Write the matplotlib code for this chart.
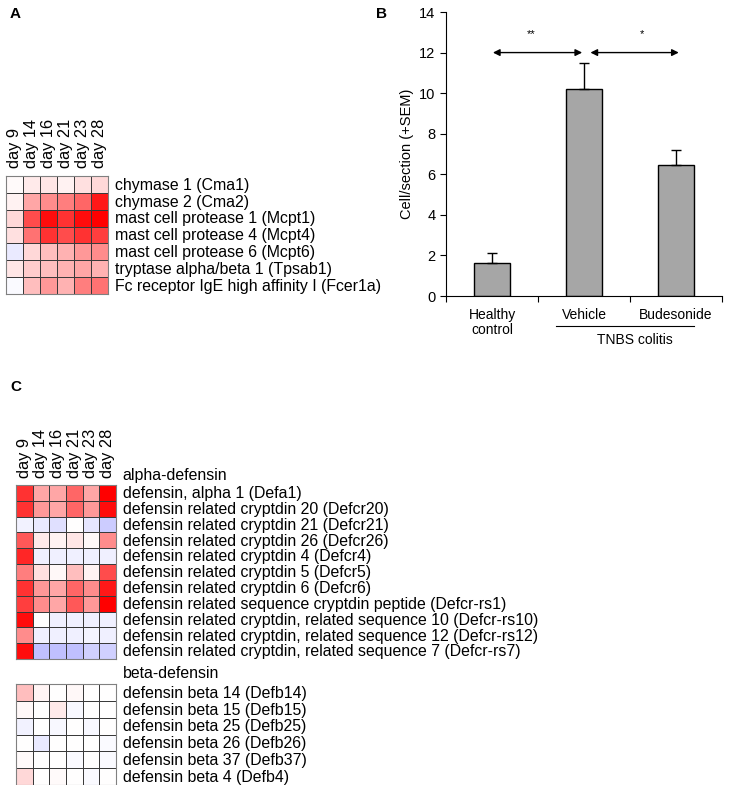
import matplotlib
matplotlib.use('Agg')
import matplotlib.pyplot as plt
import numpy as np
from matplotlib.colors import LinearSegmentedColormap

plt.rcParams['font.family'] = ['Liberation Sans', 'DejaVu Sans']

W, H = 729, 785

days = ['day 9', 'day 14', 'day 16', 'day 21', 'day 23', 'day 28']

# panel A - mast cell genes
mast_genes = ['chymase 1 (Cma1)', 'chymase 2 (Cma2)', 'mast cell protease 1 (Mcpt1)',
              'mast cell protease 4 (Mcpt4)', 'mast cell protease 6 (Mcpt6)',
              'tryptase alpha/beta 1 (Tpsab1)', 'Fc receptor IgE high affinity I (Fcer1a)']
mast_vals = [[0.02, 0.08, 0.10, 0.05, 0.12, 0.15],
             [0.05, 0.35, 0.45, 0.50, 0.60, 0.90],
             [0.15, 0.70, 0.95, 0.80, 0.95, 1.00],
             [0.12, 0.55, 0.80, 0.70, 0.80, 0.75],
             [-0.08, 0.15, 0.25, 0.30, 0.40, 0.45],
             [0.10, 0.20, 0.25, 0.30, 0.35, 0.30],
             [-0.02, 0.25, 0.40, 0.30, 0.50, 0.55]]

# panel B - bar chart
groups = ['Healthy\ncontrol', 'Vehicle', 'Budesonide']
cells = [1.63, 10.2, 6.45]
sem = [0.47, 1.3, 0.75]

# panel C - defensins
alpha_genes = ['defensin, alpha 1 (Defa1)', 'defensin related cryptdin 20 (Defcr20)',
               'defensin related cryptdin 21 (Defcr21)', 'defensin related cryptdin 26 (Defcr26)',
               'defensin related cryptdin 4 (Defcr4)', 'defensin related cryptdin 5 (Defcr5)',
               'defensin related cryptdin 6 (Defcr6)',
               'defensin related sequence cryptdin peptide (Defcr-rs1)',
               'defensin related cryptdin, related sequence 10 (Defcr-rs10)',
               'defensin related cryptdin, related sequence 12 (Defcr-rs12)',
               'defensin related cryptdin, related sequence 7 (Defcr-rs7)']
alpha_vals = [[0.80, 0.35, 0.35, 0.60, 0.35, 1.00],
              [0.80, 0.40, 0.35, 0.60, 0.40, 0.95],
              [-0.05, -0.08, -0.12, 0.00, -0.10, -0.20],
              [0.65, 0.08, 0.05, 0.10, 0.03, 0.45],
              [0.85, -0.06, -0.06, -0.06, -0.06, -0.06],
              [0.50, 0.12, 0.03, 0.25, 0.05, 0.70],
              [0.80, 0.40, 0.35, 0.60, 0.45, 0.90],
              [0.75, 0.45, 0.35, 0.65, 0.40, 1.00],
              [0.95, 0.00, -0.06, -0.06, -0.06, -0.06],
              [0.45, -0.06, -0.06, -0.06, -0.04, -0.06],
              [0.95, -0.25, -0.25, -0.25, -0.18, -0.18]]

beta_genes = ['defensin beta 14 (Defb14)', 'defensin beta 15 (Defb15)',
              'defensin beta 25 (Defb25)', 'defensin beta 26 (Defb26)',
              'defensin beta 37 (Defb37)', 'defensin beta 4 (Defb4)']
beta_vals = [[0.25, 0.04, 0.00, 0.03, 0.00, 0.00],
             [0.03, 0.00, 0.08, -0.03, 0.00, 0.00],
             [-0.05, 0.00, -0.03, 0.00, -0.03, 0.00],
             [0.00, -0.08, 0.00, 0.00, 0.00, -0.02],
             [0.02, 0.00, 0.00, -0.02, 0.00, -0.02],
             [0.15, 0.00, 0.02, 0.00, -0.02, 0.00]]

cmap = LinearSegmentedColormap.from_list('bwr2', ['#0000ff', '#ffffff', '#ff0000'])
FS = 11.4


def px_axes(x0, y0, x1, y1):
    # pixel box (top-left origin) -> figure axes
    return fig.add_axes([x0 / W, 1 - y1 / H, (x1 - x0) / W, (y1 - y0) / H])


def heatmap(ax, vals, labels, col_labels=None, header=None):
    vals = np.array(vals)
    ax.pcolormesh(vals, cmap=cmap, vmin=-1, vmax=1, edgecolors='#3a3a3a', linewidth=0.7)
    ax.set_xlim(0, vals.shape[1])
    ax.set_ylim(vals.shape[0], 0)
    ax.set_xticks([])
    ax.set_yticks([])
    for s in ax.spines.values():
        s.set_color('#808080')
        s.set_linewidth(0.8)
    for i, lab in enumerate(labels):
        ax.text(vals.shape[1] + 0.4, i + 0.55, lab, va='center', ha='left', fontsize=FS)
    if col_labels:
        for j, lab in enumerate(col_labels):
            ax.text(j + 0.5, -0.45, lab, rotation=90, ha='center', va='bottom', fontsize=11.8)
    if header:
        ax.text(vals.shape[1] + 0.4, -0.6, header, va='center', ha='left', fontsize=FS)


fig = plt.figure(figsize=(W / 100, H / 100), dpi=100)

# A
axA = px_axes(6, 176, 108, 294)
heatmap(axA, mast_vals, mast_genes, col_labels=days)
fig.text(10 / W, 1 - 14 / H, 'A', fontsize=11, fontweight='bold', va='center')

# C
axC1 = px_axes(16, 485, 116, 659)
heatmap(axC1, alpha_vals, alpha_genes, col_labels=days, header='alpha-defensin')
axC2 = px_axes(16, 684, 116, 785)
heatmap(axC2, beta_vals, beta_genes, header='beta-defensin')
fig.text(10 / W, 1 - 387 / H, 'C', fontsize=11, fontweight='bold', va='center')

# B
axB = px_axes(446, 12, 722, 296)
x = np.arange(len(groups)) + 0.5
axB.bar(x, cells, width=0.4, color='#a6a6a6', edgecolor='black', linewidth=1,
        yerr=[[0] * len(sem), sem], capsize=3.5, error_kw=dict(elinewidth=1, capthick=1))
axB.set_xlim(0, 3)
axB.set_ylim(0, 14)
axB.set_yticks(range(0, 15, 2))
axB.set_xticks([0, 1, 2, 3])
axB.set_xticklabels([])
axB.tick_params(direction='out', length=4, labelsize=10.5)
axB.spines['top'].set_visible(False)
axB.spines['right'].set_visible(False)
axB.set_ylabel('Cell/section (+SEM)', fontsize=10.5)
for xi, g in zip(x, groups):
    axB.text(xi, -0.6, g, ha='center', va='top', fontsize=10, linespacing=1.1)
axB.plot([1.2, 2.7], [-1.48, -1.48], color='black', lw=0.8, clip_on=False)
axB.text(2.05, -1.8, 'TNBS colitis', ha='center', va='top', fontsize=10)
arrow = dict(arrowstyle='<|-|>', color='black', lw=1, mutation_scale=10, shrinkA=0, shrinkB=0)
axB.annotate('', xy=(1.48, 12), xytext=(0.51, 12), arrowprops=arrow)
axB.annotate('', xy=(2.53, 12), xytext=(1.57, 12), arrowprops=arrow)
axB.text(0.93, 12.9, '**', ha='center', va='center', fontsize=8)
axB.text(2.13, 12.9, '*', ha='center', va='center', fontsize=8)
fig.text(376 / W, 1 - 14 / H, 'B', fontsize=11, fontweight='bold', va='center')

fig.savefig('out.png', dpi=100)
